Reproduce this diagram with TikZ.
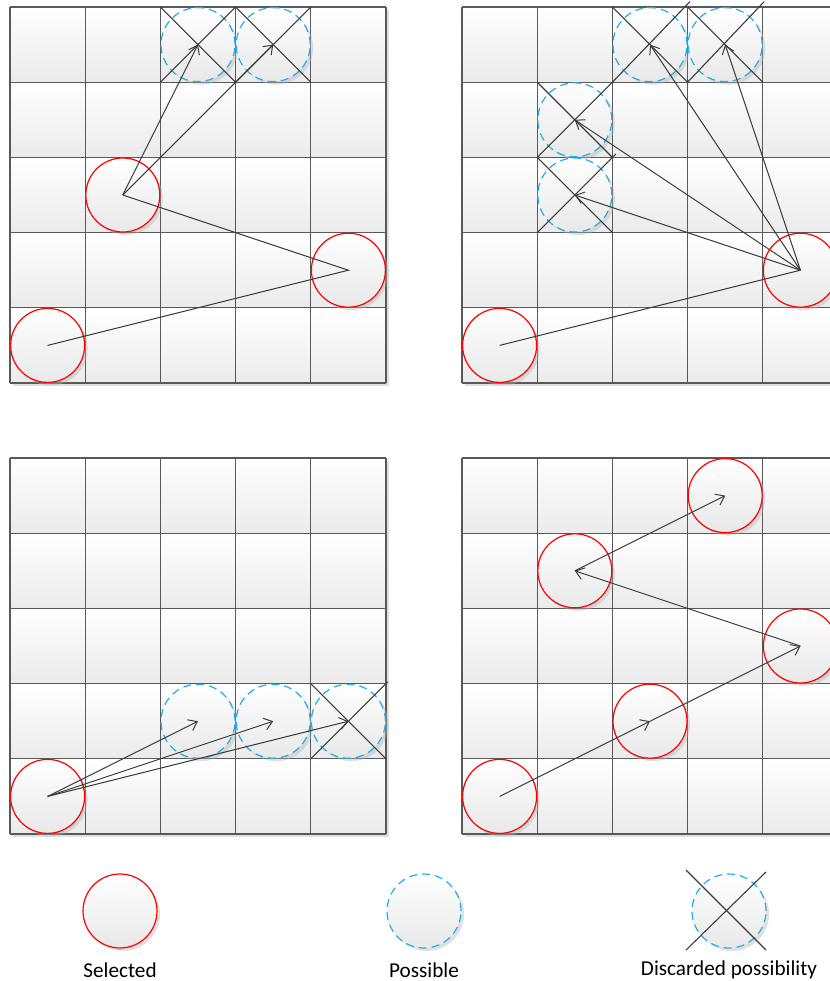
\documentclass[tikz,border=0pt]{standalone}
\usepackage{fontspec}
\setmainfont{Carlito}
\usetikzlibrary{arrows.meta, shadows}

\definecolor{possblue}{RGB}{30,175,235}
\definecolor{linegray}{RGB}{60,60,60}

\tikzset{
  selected/.style={circle, draw=red, line width=0.6pt, minimum size=37pt, inner sep=0pt,
    top color=white, bottom color=black!9,
    drop shadow={shadow xshift=1.5pt, shadow yshift=-1.5pt, fill=black!30, opacity=0.4}},
  possible/.style={selected, draw=possblue, dash pattern=on 4pt off 2.5pt},
  move/.style={draw=linegray, line width=0.5pt},
  try/.style={move, -{Straight Barb[length=4pt, width=6pt]}},
  xline/.style={draw=linegray, line width=0.55pt},
  cellline/.style={draw=black!65, line width=0.6pt},
  legend/.style={font=\fontsize{10.6}{12}\selectfont}
}

% 5x5 board, top left corner at (#1,#2)
\newcommand{\board}[2]{%
  \fill[black!12] ({#1+3},{#2+3}) rectangle ({#1+379},{#2+379});
  \foreach \c in {0,...,4}
    \foreach \r in {0,...,4}
      \shade[top color=white, bottom color=black!8]
        ({#1+75.2*\c},{#2+75.2*\r}) rectangle ++(75.2,75.2);
  \foreach \k in {0,...,5} {
    \draw[cellline] ({#1+75.2*\k},#2) -- ++(0,376);
    \draw[cellline] (#1,{#2+75.2*\k}) -- ++(376,0);
  }
}

% cross over a discarded cell, optional end of the rising stroke
\newcommand{\strike}[2][(37.6,-37.6)]{%
  \draw[xline] ([shift={(-37.6,-37.6)}]#2.center) -- ([shift={(37.6,37.6)}]#2.center);
  \draw[xline] ([shift={(-37.6,37.6)}]#2.center) -- ([shift={#1}]#2.center);
}

\begin{document}
\begin{tikzpicture}[x=0.5pt, y=-0.5pt]
  \clip (0,0) rectangle (830,981);
  \fill[white] (0,0) rectangle (830,981);

  % Boards
  \board{10}{7}
  \board{462}{7}
  \board{10}{458}
  \board{462}{458}

  % Top left
  \node[selected] (a1) at (47.6,345.4) {};
  \node[selected] (a2) at (348.4,270.2) {};
  \node[selected] (a3) at (122.8,195) {};
  \node[possible] (a4) at (198,44.6) {};
  \node[possible] (a5) at (273.2,44.6) {};
  \strike{a4}
  \strike{a5}
  \draw[move] (a1.center) -- (a2.center) -- (a3.center);
  \draw[try] (a3.center) -- (a4.center);
  \draw[try] (a3.center) -- (a5.center);

  % Top right
  \node[selected] (b1) at (499.6,345.4) {};
  \node[selected] (b2) at (800.4,270.2) {};
  \node[possible] (b3) at (650,44.6) {};
  \node[possible] (b4) at (725.2,44.6) {};
  \node[possible] (b5) at (574.8,119.8) {};
  \node[possible] (b6) at (574.8,195) {};
  \strike[(40,-43)]{b3}
  \strike[(39,-43)]{b4}
  \strike{b5}
  \strike[(41,-41)]{b6}
  \draw[move] (b1.center) -- (b2.center);
  \draw[try] (b2.center) -- (b3.center);
  \draw[try] (b2.center) -- (b4.center);
  \draw[try] (b2.center) -- (b5.center);
  \draw[try] (b2.center) -- (b6.center);

  % Bottom left
  \node[selected] (c1) at (47.6,796.4) {};
  \node[possible] (c2) at (198,721.2) {};
  \node[possible] (c3) at (273.2,721.2) {};
  \node[possible] (c4) at (348.4,721.2) {};
  \strike[(39.5,-39.5)]{c4}
  \draw[try] (c1.center) -- (c2.center);
  \draw[try] (c1.center) -- (c3.center);
  \draw[try] (c1.center) -- (c4.center);

  % Bottom right
  \node[selected] (d1) at (499.6,796.4) {};
  \node[selected] (d2) at (650,721.2) {};
  \node[selected] (d3) at (800.4,646) {};
  \node[selected] (d4) at (574.8,570.8) {};
  \node[selected] (d5) at (725.2,495.6) {};
  \draw[try] (d1.center) -- (d2.center);
  \draw[try] (d2.center) -- (d3.center);
  \draw[try] (d3.center) -- (d4.center);
  \draw[try] (d4.center) -- (d5.center);

  % Legend
  \node[selected] (l1) at (120,911) {};
  \node[possible] (l2) at (424,911) {};
  \node[possible] (l3) at (729,911) {};
  \draw[xline] ([shift={(-43,-41)}]l3.center) -- ([shift={(37,39)}]l3.center);
  \draw[xline] ([shift={(37,-39)}]l3.center) -- ([shift={(-43,39)}]l3.center);
  \node[legend] (t1) at (120,970) {Selected};
  \node[legend] (t2) at (424,970) {Possible};
  \node[legend] (t3) at (729,970) {Discarded possibility};
\end{tikzpicture}
\end{document}
